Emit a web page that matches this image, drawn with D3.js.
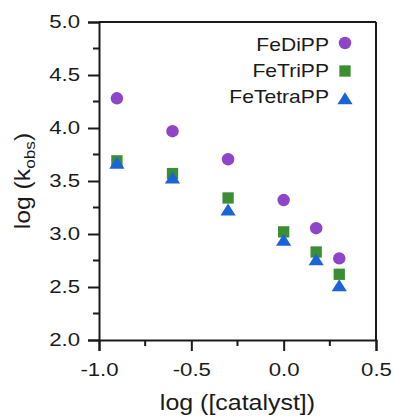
<!DOCTYPE html>
<html><head><meta charset="utf-8">
<script src="https://cdn.jsdelivr.net/npm/d3@7"></script>
<style>body{margin:0;background:#fff}svg{display:block}text{font-family:"Liberation Sans",Arial,sans-serif;fill:#1a1a1a}</style>
</head><body>
<svg id="c" width="393" height="417"></svg>
<script>
const xVals = [-0.903, -0.602, -0.301, 0.0, 0.176, 0.301];
const seriesNames = ["FeDiPP", "FeTriPP", "FeTetraPP"];
const feDiPP = [4.28, 3.97, 3.705, 3.32, 3.055, 2.77];
const feTriPP = [3.69, 3.57, 3.34, 3.02, 2.83, 2.62];
const feTetraPP = [3.67, 3.53, 3.23, 2.945, 2.76, 2.515];
const xTicks = [-1.0, -0.5, 0.0, 0.5];
const yTicks = [2.0, 2.5, 3.0, 3.5, 4.0, 4.5, 5.0];
const colors = ["#8e45c9", "#3b8f32", "#1b63d9"];
const allSeries = [feDiPP, feTriPP, feTetraPP];

const svg = d3.select("#c");
const L = 99, R = 376, T = 22, B = 340;
const x = d3.scaleLinear().domain([-1, 0.5]).range([L, R]);
const y = d3.scaleLinear().domain([2, 5]).range([B, T]);
const STRETCH = 1.16;
function stretch(sel, f) {
  sel.each(function () {
    const w = this.getComputedTextLength();
    d3.select(this).attr("textLength", w * f).attr("lengthAdjust", "spacingAndGlyphs");
  });
}

// marker shapes
const circlePath = d3.symbol().type(d3.symbolCircle).size(122)();
const squarePath = d3.symbol().type(d3.symbolSquare).size(128)();
const triPath = "M0,-6.2L7.6,5.8L-7.6,5.8Z";
const paths = [circlePath, squarePath, triPath];

// frame
const axCol = "#1a1a1a";
svg.append("line").attr("x1", L).attr("x2", R).attr("y1", T).attr("y2", T).attr("stroke", axCol).attr("stroke-width", 2);
svg.append("line").attr("x1", R).attr("x2", R).attr("y1", T).attr("y2", B).attr("stroke", axCol).attr("stroke-width", 2);

// axes
const fmt = d => d3.format(".1f")(d).replace("\u2212", "-");
const xAxis = d3.axisBottom(x).tickValues(xTicks).tickFormat(fmt).tickSize(11).tickPadding(12);
const yAxis = d3.axisLeft(y).tickValues(yTicks).tickFormat(fmt).tickSize(11).tickPadding(8);
const gx = svg.append("g").attr("transform", `translate(0,${B})`).call(xAxis);
const gy = svg.append("g").attr("transform", `translate(${L},0)`).call(yAxis);
[gx, gy].forEach(g => {
  g.attr("font-family", null).attr("font-size", null);
  g.select(".domain").attr("stroke", axCol).attr("stroke-width", 2);
  g.selectAll(".tick line").attr("stroke", axCol).attr("stroke-width", 2);
  g.selectAll(".tick text").style("font-size", "18.5px").attr("fill", axCol);
});
gx.selectAll(".tick text").attr("dy", "0.72em");
stretch(gx.selectAll(".tick text"), 1.2);
stretch(gy.selectAll(".tick text"), 1.2);

// minor ticks
const xMinor = [-0.75, -0.25, 0.25];
const yMinor = [2.25, 2.75, 3.25, 3.75, 4.25, 4.75];
svg.append("g").selectAll("line").data(xMinor).join("line")
  .attr("x1", d => x(d)).attr("x2", d => x(d)).attr("y1", B).attr("y2", B + 6)
  .attr("stroke", axCol).attr("stroke-width", 2);
svg.append("g").selectAll("line").data(yMinor).join("line")
  .attr("x1", L - 6).attr("x2", L).attr("y1", d => y(d)).attr("y2", d => y(d))
  .attr("stroke", axCol).attr("stroke-width", 2);

// data
allSeries.forEach((vals, i) => {
  svg.append("g").selectAll("path").data(vals).join("path")
    .attr("transform", (d, j) => `translate(${x(xVals[j])},${y(d)})`)
    .attr("d", paths[i])
    .attr("fill", colors[i]);
});

// legend
const legText = [51, 76.5, 103];
const legMark = [43, 71, 98.5];
seriesNames.forEach((n, i) => {
  const t = svg.append("text").attr("x", 329).attr("y", legText[i])
    .attr("text-anchor", "end").style("font-size", "18.5px").text(n);
  stretch(t, 1.14);
  svg.append("path").attr("transform", `translate(345,${legMark[i]})`)
    .attr("d", paths[i]).attr("fill", colors[i]);
});

// axis titles
const xt = svg.append("text").attr("x", (L + R) / 2).attr("y", 410).attr("text-anchor", "middle")
  .style("font-size", "21.5px").text("log ([catalyst])");
stretch(xt, 1.16);
const yt = svg.append("text").attr("transform", `translate(30,${(T + B) / 2}) rotate(-90) scale(1.15,1)`)
  .attr("text-anchor", "middle").style("font-size", "21.5px");
yt.append("tspan").text("log (k");
yt.append("tspan").attr("dy", 5).style("font-size", "15px").text("obs");
yt.append("tspan").attr("dy", -5).text(")");
</script>
</body></html>
